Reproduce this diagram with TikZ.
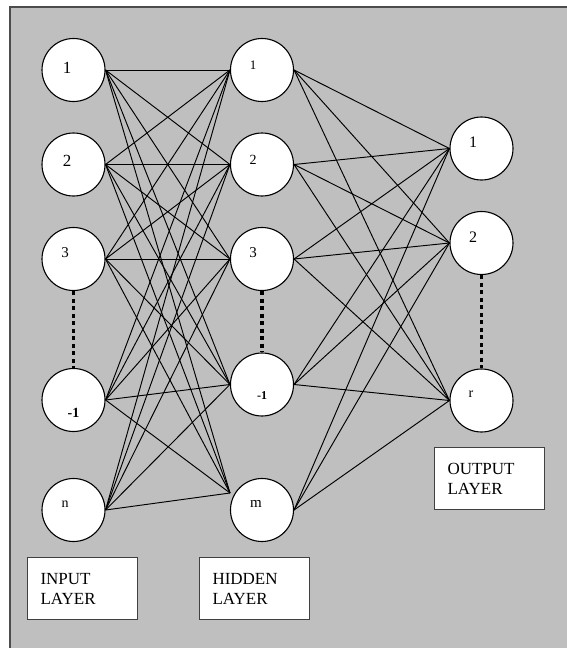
\documentclass[tikz,border=0pt]{standalone}
\usepackage{fontspec}
\setmainfont{Liberation Serif}
\usetikzlibrary{positioning}
\newcommand{\fs}[1]{\fontsize{#1}{#1}\selectfont}

\begin{document}
\begin{tikzpicture}[x=1pt,y=-1pt,
                   neuron/.style={circle,draw,fill=white,minimum size=63pt,inner sep=0pt,line width=1.1pt},
                   layerbox/.style={draw=black!75,fill=white,line width=1pt,anchor=north west,
                     minimum width=110pt,minimum height=62pt,text width=84pt,inner xsep=13pt,
                     align=left,font=\fontsize{17}{20}\selectfont},
                   wire/.style={line width=0.95pt},
                   gap/.style={line width=3.5pt,dash pattern=on 4pt off 3.5pt}]
\useasboundingbox (0,0) rectangle (567,648);
\draw[draw=black!70,fill=black!25,line width=1.6pt] (10,7) rectangle (590,670);
% input layer
\node[neuron,label={[xshift=-6.5pt,yshift=2pt,font=\fs{17}]center:1}] (i1) at (73.5,70) {};
\node[neuron,label={[xshift=-6.5pt,yshift=4pt,font=\fs{17}]center:2}] (i2) at (73.5,164.5) {};
\node[neuron,label={[xshift=-8.5pt,yshift=6pt,font=\fs{15}]center:3}] (i3) at (73.5,259) {};
\node[neuron,label={[yshift=-13pt,font=\fs{14}\bfseries]center:-1}] (i4) at (73.5,400) {};
\node[neuron,label={[xshift=-8.5pt,yshift=6pt,font=\fs{14}]center:n}] (i5) at (73.5,510) {};
% hidden layer
\node[neuron,label={[xshift=-9pt,yshift=5pt,font=\fs{13}]center:1}] (h1) at (262,70) {};
\node[neuron,label={[xshift=-9pt,yshift=5pt,font=\fs{14}]center:2}] (h2) at (262,164.5) {};
\node[neuron,label={[xshift=-9pt,yshift=6pt,font=\fs{15}]center:3}] (h3) at (262,259) {};
\node[neuron,label={[yshift=-11pt,font=\fs{12}\bfseries]center:-1}] (h4) at (262,384.5) {};
\node[neuron,label={[xshift=-6pt,yshift=6pt,font=\fs{15}]center:m}] (h5) at (262,510) {};
% output layer
\node[neuron,label={[xshift=-8.5pt,yshift=6.5pt,font=\fs{16}]center:1}] (o1) at (481.5,148.5) {};
\node[neuron,label={[xshift=-8.5pt,yshift=6pt,font=\fs{16}]center:2}] (o2) at (481.5,243) {};
\node[neuron,label={[xshift=-10.5pt,yshift=6pt,font=\fs{14}]center:r}] (o3) at (481.5,400.5) {};
\coordinate (h5in) at (230,493);
\draw[gap] (i3.south) -- (i4.north);
\draw[gap] (h3.south) -- (h4.north);
\draw[gap] (o2.south) -- (o3.north);
\foreach \a in {1,...,5}{
  \foreach \b in {1,...,4} \draw[wire] (i\a.east) -- (h\b.west);
  \draw[wire] (i\a.east) -- (h5in);
  \foreach \c in {1,2,3} \draw[wire] (h\a.east) -- (o\c.west);
}
\node[layerbox] (inlab) at (27,557) {INPUT\\LAYER};
\node[layerbox] (hidlab) at (199,557) {HIDDEN\\LAYER};
\node[layerbox] (outlab) at (434,447) {OUTPUT\\LAYER};
\end{tikzpicture}
\end{document}
